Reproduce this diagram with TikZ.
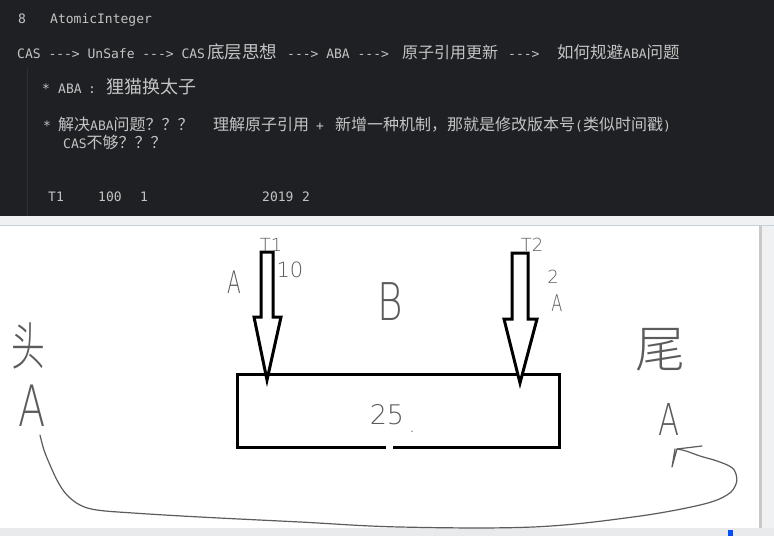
\documentclass[tikz,border=0pt]{standalone}
\usepackage{fontspec}
\usetikzlibrary{calc}
\setmainfont{Liberation Sans}
\newfontfamily\mono{DejaVu Sans Mono}
\newfontfamily\cjk{Noto Sans CJK SC}
\IfFontExistsTF{DejaVu Sans ExtraLight}{\newfontfamily\hand{DejaVu Sans ExtraLight}}{\newfontfamily\hand{DejaVu Sans}}
\IfFontExistsTF{Noto Sans CJK SC Light}{\newfontfamily\handzh{Noto Sans CJK SC Light}}{\newfontfamily\handzh{Noto Sans CJK SC}}
\newcommand\zhs[2]{{\cjk\fontsize{#1}{18}\selectfont #2}}
\newcommand\zh[1]{\zhs{16}{#1}}
\definecolor{editorbg}{HTML}{1F2023}
\definecolor{codefg}{HTML}{C4C4C4}
\definecolor{guide}{HTML}{2E3034}
\definecolor{strip}{HTML}{F0F1F3}
\definecolor{stripline}{HTML}{C7D0DC}
\definecolor{statusbar}{HTML}{E9EAEC}
\definecolor{pen}{HTML}{5C5C5C}
\definecolor{scroll}{HTML}{C9C9C9}
\tikzset{
  code/.style={anchor=base west, inner sep=0pt, text=codefg, font=\mono\fontsize{13}{16}\selectfont},
  hw/.style={inner sep=0pt, text=pen},
  penline/.style={draw=pen, line width=1.2pt, line cap=round, line join=round},
  blockarrow/.style={draw=black, fill=white, line width=3pt},
  boxline/.style={draw=black, line width=3.2pt, line cap=rect}
}
\begin{document}
\begin{tikzpicture}[x=1pt,y=-1pt]
\useasboundingbox (0,0) rectangle (774,536);
% editor background
\fill[editorbg] (0,0) rectangle (774,216);
\draw[guide, line width=1pt] (27,68) -- (27,216);
% separator strip, canvas, status bar
\fill[strip] (0,216) rectangle (774,225);
\draw[stripline, line width=1pt] (0,225) -- (774,225);
\fill[white] (0,225.5) rectangle (774,528);
\fill[strip] (762,226) rectangle (774,528);
\fill[scroll] (759,226) rectangle (762,528);
\fill[statusbar] (0,528) rectangle (774,536);
\fill[blue!70!cyan] (728,530) rectangle (733,536);

% ---- code text ----
\node[code] (l1a) at (18,23) {8};
\node[code] (l1b) at (50,23) {AtomicInteger};

\node[code] (l2a) at (17,58) {CAS ---> UnSafe ---> CAS};
\node[code] (l2b) at (207,58) {\zhs{17.5}{底层思想}};
\node[code] (l2c) at (287,58) {---> ABA --->};
\node[code] (l2d) at (402,58) {\zh{原子引用更新}};
\node[code] (l2e) at (508,58) {--->};
\node[code] (l2f) at (557,58) {\zhs{16.5}{如何规避}ABA\zhs{16.5}{问题}};

\node[code] (l3a) at (42,93) {*};
\node[code] (l3b) at (58,93) {ABA};
\node[code] (l3c) at (88,93) {:};
\node[code] (l3d) at (106,93) {\zhs{18}{狸猫换太子}};

\node[code] (l4a) at (43,130) {*};
\node[code] (l4b) at (58,130) {\zh{解决}ABA\zh{问题？？？}};
\node[code] (l4c) at (213,130) {\zh{理解原子引用}};
\node[code] (l4d) at (316,130) {+};
\node[code] (l4e) at (335,130) {\zh{新增一种机制，那就是修改版本号}(\zh{类似时间戳})};

\node[code] (l5a) at (63,148) {CAS\zh{不够？？？}};

\node[code] (l6a) at (48,201) {T1};
\node[code] (l6b) at (98,201) {100};
\node[code] (l6c) at (140,201) {1};
\node[code] (l6d) at (262,201) {2019};
\node[code] (l6e) at (302,201) {2};

% ---- whiteboard ----
\node[minimum width=321pt, minimum height=72pt, inner sep=0pt] (box) at (398.5,411) {};
\draw[boxline] ($(box.south west)+(147,0)$) -- (box.south west) -- (box.north west)
  -- (box.north east) -- (box.south east) -- ($(box.south west)+(157,0)$);

\coordinate (tip1) at (267,380);
\coordinate (tip2) at (520,383);
\draw[blockarrow] (261,252) -- (261,317) -- (254,317) -- (tip1) -- (281,317) -- (273,317) -- (273,252) -- cycle;
\draw[blockarrow] (512,253) -- (512,319) -- (504,319) -- (tip2) -- (537,319) -- (528,319) -- (528,253) -- cycle;

\node[hw, font=\hand\fontsize{18}{18}\selectfont] (t1) at (271,245) {T1};
\node[hw, font=\hand\fontsize{21}{21}\selectfont] (ten) at (290,270) {10};
\node[hw, font=\hand\fontsize{31}{31}\selectfont, xscale=0.65] (a1) at (234,282) {A};
\node[hw, font=\hand\fontsize{52}{52}\selectfont, xscale=0.75] (b) at (390,302) {B};
\node[hw, font=\hand\fontsize{18}{18}\selectfont] (t2) at (532,245) {T2};
\node[hw, font=\hand\fontsize{18}{18}\selectfont] (two) at (553,277) {2};
\node[hw, font=\hand\fontsize{23}{23}\selectfont, xscale=0.7] (a2) at (557,303) {A};
\node[hw, font=\handzh\fontsize{52}{52}\selectfont, xscale=0.65] (tou) at (28,346) {头};
\node[hw, font=\hand\fontsize{57}{57}\selectfont, xscale=0.7] (ahead) at (32,406) {A};
\node[hw, font=\handzh\fontsize{50}{50}\selectfont] (wei) at (660,350) {尾};
\node[hw, font=\hand\fontsize{44}{44}\selectfont, xscale=0.7] (atail) at (669,419) {A};
\node[hw, font=\hand\fontsize{27}{27}\selectfont] (val) at (387,415) {25};
\node[hw, font=\hand\fontsize{20}{20}\selectfont] (dot) at (412,432) {.};

% curve from head A to tail A
\coordinate (cstart) at (40,435);
\coordinate (cend) at (677,449);
\draw[penline] plot[smooth, tension=0.6] coordinates {(cstart) (44,450) (50,465) (58,482) (67,495) (80,505) (97,510) (133,513) (200,517) (300,522) (400,527) (533,527) (633,517) (700,505) (727,495) (736,484) (736,474) (731,467) (717,461) (700,456) (686,451) (cend)};
\draw[penline] (702,446) -- (cend) -- (672,467) -- (675,449);
\end{tikzpicture}
\end{document}
